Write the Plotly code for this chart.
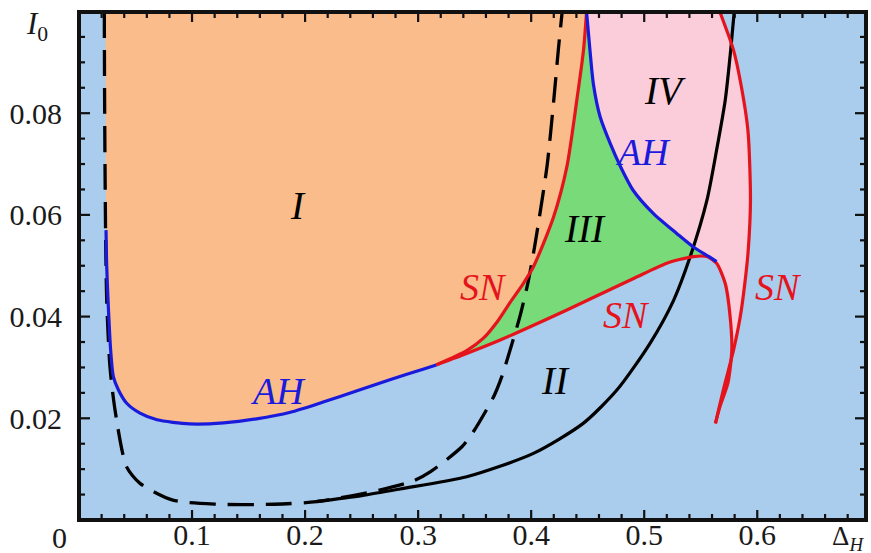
import plotly.graph_objects as go

# ---------------- data ----------------
# left Andronov-Hopf curve (boundary of region I)
ah_left_x = [0.0233, 0.0234, 0.0236, 0.0239, 0.0245, 0.0257, 0.0280, 0.0304, 0.0348, 0.042, 0.054, 0.069,
             0.098, 0.128, 0.157, 0.187, 0.216, 0.246, 0.275, 0.305, 0.316]
ah_left_y = [0.0999, 0.085, 0.070, 0.057, 0.050, 0.0432, 0.0334, 0.0282, 0.0256, 0.0230, 0.0210, 0.0197,
             0.0189, 0.0191, 0.0199, 0.0212, 0.0232, 0.0254, 0.0276, 0.0297, 0.0305]

# upper-left saddle-node curve
sn_up_x = [0.316, 0.343, 0.3575, 0.370, 0.3814, 0.393, 0.402, 0.4198, 0.4316, 0.4404, 0.4463, 0.449]
sn_up_y = [0.0305, 0.0333, 0.0357, 0.0390, 0.0428, 0.0465, 0.0498, 0.0596, 0.0695, 0.0826, 0.0924, 0.0999]

# lower saddle-node curve (ending in the cusp)
sn_low_x = [0.316, 0.340, 0.3726, 0.4316, 0.4906, 0.520, 0.5434, 0.5555, 0.564, 0.5717, 0.576, 0.5775,
            0.574, 0.567, 0.563]
sn_low_y = [0.0305, 0.0325, 0.0354, 0.0413, 0.0475, 0.0505, 0.0518, 0.0518, 0.0505, 0.0465, 0.0400,
            0.0334, 0.0269, 0.0223, 0.0190]

# right saddle-node curve
sn_right_x = [0.563, 0.570, 0.579, 0.585, 0.589, 0.592, 0.594, 0.592, 0.588, 0.579, 0.567]
sn_right_y = [0.0190, 0.0256, 0.0334, 0.0400, 0.0465, 0.0530, 0.0629, 0.0760, 0.0826, 0.0924, 0.0999]

# right Andronov-Hopf curve
ah_right_x = [0.449, 0.452, 0.455, 0.461, 0.470, 0.479, 0.490, 0.508, 0.529, 0.5434, 0.558, 0.564]
ah_right_y = [0.0999, 0.0924, 0.0858, 0.0793, 0.0740, 0.0695, 0.0649, 0.0603, 0.0563, 0.0537, 0.0517, 0.0508]

# dashed black curve
dash_x = [0.0224, 0.0226, 0.0230, 0.0236, 0.0245, 0.0274, 0.0319, 0.042, 0.054, 0.083, 0.122, 0.172, 0.210,
          0.260, 0.296, 0.311, 0.3387, 0.349, 0.3667, 0.374, 0.384, 0.390, 0.397, 0.402, 0.405, 0.414,
          0.420, 0.424, 0.4274]
dash_y = [0.0999, 0.085, 0.070, 0.055, 0.0432, 0.0301, 0.0216, 0.0105, 0.0072, 0.0039, 0.0031, 0.0031,
          0.0036, 0.0056, 0.0077, 0.0095, 0.0144, 0.0174, 0.0242, 0.0282, 0.0354, 0.0400, 0.0465,
          0.0524, 0.0564, 0.0695, 0.0826, 0.0924, 0.0999]

# solid black curve
solid_x = [0.210, 0.250, 0.284, 0.343, 0.402, 0.446, 0.476, 0.5053, 0.526, 0.5407, 0.5555, 0.564, 0.5717,
           0.5765, 0.5796]
solid_y = [0.0036, 0.0048, 0.0061, 0.0085, 0.0131, 0.0190, 0.0256, 0.0348, 0.0432, 0.0518, 0.0629,
           0.0727, 0.0826, 0.0924, 0.0999]

x_tick_vals = [0.1, 0.2, 0.3, 0.4, 0.5, 0.6]
x_tick_text = ["0.1", "0.2", "0.3", "0.4", "0.5", "0.6"]
y_tick_vals = [0.02, 0.04, 0.06, 0.08]
y_tick_text = ["0.02", "0.04", "0.06", "0.08"]
x_minor_step = 0.02
y_minor_step = 0.005

region_labels = ["I", "II", "III", "IV"]
region_x = [0.194, 0.4212, 0.4478, 0.5186]
region_y = [0.0619, 0.0275, 0.0574, 0.0845]
ah_label_x = [0.176, 0.499]
ah_label_y = [0.0254, 0.0724]
sn_label_x = [0.3575, 0.4846, 0.6188]
sn_label_y = [0.0459, 0.0403, 0.0459]

X_MAX = 0.6962
Y_MAX = 0.0999

# ---------------- colours ----------------
BG = "#AACCED"
ORANGE = "#FABC8A"
GREEN = "#78DA78"
PINK = "#FBCCD9"
RED = "#E5141C"
BLUE = "#1A1ADC"
FONT = "Liberation Serif, Times New Roman, serif"
TXT = "#1A1A1A"

# plot-area geometry (pixels) used to convert tick lengths into axis units
PLOT_W = 871 - 79 - 5
PLOT_H = 553 - 12 - 33
px_x = X_MAX / PLOT_W
px_y = Y_MAX / PLOT_H

fig = go.Figure()

# region I (orange)
fig.add_trace(go.Scatter(x=ah_left_x + sn_up_x, y=ah_left_y + sn_up_y, fill="toself",
                         fillcolor=ORANGE, line=dict(width=0), mode="lines", hoverinfo="skip"))
# region III (green)
k = sn_low_x.index(0.5555)
g_x = sn_up_x + ah_right_x + sn_low_x[:k + 1][::-1]
g_y = sn_up_y + ah_right_y + sn_low_y[:k + 1][::-1]
fig.add_trace(go.Scatter(x=g_x, y=g_y, fill="toself", fillcolor=GREEN,
                         line=dict(width=0), mode="lines", hoverinfo="skip"))
# region IV (pink)
p_x = ah_right_x + sn_low_x[k + 1:] + sn_right_x
p_y = ah_right_y + sn_low_y[k + 1:] + sn_right_y
fig.add_trace(go.Scatter(x=p_x, y=p_y, fill="toself", fillcolor=PINK,
                         line=dict(width=0), mode="lines", hoverinfo="skip"))

# ---- frame ticks (major + minor, on all four sides, pointing inwards) ----
tx, ty = [], []
x_minor = [i * x_minor_step for i in range(1, int(X_MAX / x_minor_step) + 1)]
for v in x_minor:
    major = any(abs(v - m) < 1e-9 for m in x_tick_vals)
    L = (10 if major else 6) * px_y
    tx += [v, v, None, v, v, None]
    ty += [0, L, None, Y_MAX, Y_MAX - L, None]
y_minor = [i * y_minor_step for i in range(1, int(Y_MAX / y_minor_step) + 1)]
for v in y_minor:
    major = any(abs(v - m) < 1e-9 for m in y_tick_vals)
    L = (11 if major else 6) * px_x
    tx += [0, L, None, X_MAX, X_MAX - L, None]
    ty += [v, v, None, v, v, None]
fig.add_trace(go.Scatter(x=tx, y=ty, mode="lines", line=dict(color="#111111", width=2.2),
                         connectgaps=False, hoverinfo="skip"))

spl = dict(shape="spline", smoothing=0.7)
# curves
fig.add_trace(go.Scatter(x=dash_x, y=dash_y, mode="lines",
                         line=dict(color="black", width=3.3, dash="26px,12px", **spl)))
fig.add_trace(go.Scatter(x=solid_x, y=solid_y, mode="lines",
                         line=dict(color="black", width=3.2, **spl)))
fig.add_trace(go.Scatter(x=sn_up_x, y=sn_up_y, mode="lines", line=dict(color=RED, width=3.2, **spl)))
fig.add_trace(go.Scatter(x=sn_low_x, y=sn_low_y, mode="lines", line=dict(color=RED, width=3.2, **spl)))
fig.add_trace(go.Scatter(x=sn_right_x + [0.562], y=sn_right_y + [0.103], mode="lines",
                         line=dict(color=RED, width=3.2, **spl)))
fig.add_trace(go.Scatter(x=ah_right_x, y=ah_right_y, mode="lines", line=dict(color=BLUE, width=3.2, **spl)))
fig.add_trace(go.Scatter(x=ah_left_x[3:], y=ah_left_y[3:], mode="lines",
                         line=dict(color=BLUE, width=3.2, **spl)))

# frame drawn as a data-space rectangle
fig.add_trace(go.Scatter(x=[0, X_MAX, X_MAX, 0, 0], y=[0, 0, Y_MAX, Y_MAX, 0], mode="lines",
                         line=dict(color="#111111", width=4), hoverinfo="skip"))

ann = []
for t, x, y in zip(region_labels, region_x, region_y):
    ann.append(dict(x=x, y=y, xref="x", yref="y", text="<i>%s</i>" % t, showarrow=False,
                    xanchor="center", yanchor="middle",
                    font=dict(family=FONT, size=39, color="black")))
for x, y in zip(ah_label_x, ah_label_y):
    ann.append(dict(x=x, y=y, xref="x", yref="y", text="<i>AH</i>", showarrow=False,
                    xanchor="center", yanchor="middle",
                    font=dict(family=FONT, size=38, color=BLUE)))
for x, y in zip(sn_label_x, sn_label_y):
    ann.append(dict(x=x, y=y, xref="x", yref="y", text="<i>SN</i>", showarrow=False,
                    xanchor="center", yanchor="middle",
                    font=dict(family=FONT, size=38, color=RED)))
# axis titles and origin label
ann.append(dict(x=-0.053, y=0.972, xref="paper", yref="paper", text="<i>I</i><sub>0</sub>",
                xanchor="center", yanchor="middle",
                showarrow=False, font=dict(family=FONT, size=31, color=TXT)))
ann.append(dict(x=0.977, y=-0.036, xref="paper", yref="paper", text="Δ<sub><i>H</i></sub>",
                xanchor="center", yanchor="middle",
                showarrow=False, font=dict(family=FONT, size=27, color=TXT)))
ann.append(dict(x=-0.0254, y=-0.0335, xref="paper", yref="paper", text="0",
                xanchor="center", yanchor="middle",
                showarrow=False, font=dict(family=FONT, size=30, color=TXT)))

axis_common = dict(showline=True, linecolor="#111111", linewidth=2, mirror=True,
                   ticks="", showgrid=False, zeroline=False, automargin=False,
                   layer="above traces",
                   tickfont=dict(family=FONT, size=30, color=TXT))

fig.update_layout(
    width=871, height=553,
    margin=dict(l=79, r=5, t=12, b=33),
    paper_bgcolor="white", plot_bgcolor=BG,
    showlegend=False,
    annotations=ann,
    xaxis=dict(range=[0, X_MAX], tickmode="array", tickvals=x_tick_vals, ticktext=x_tick_text,
               ticklabelstandoff=-13, **axis_common),
    yaxis=dict(range=[0, Y_MAX], tickmode="array", tickvals=y_tick_vals, ticktext=y_tick_text,
               ticklabelstandoff=9, **axis_common),
)

fig.write_html("out.html")
